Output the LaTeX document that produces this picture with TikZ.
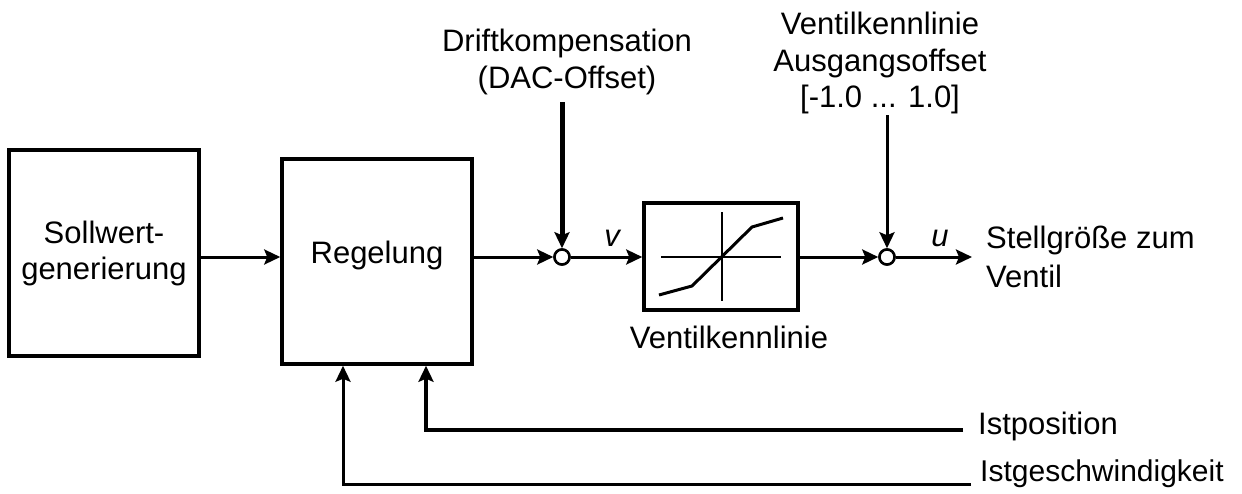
\documentclass[tikz,border=0pt]{standalone}
\usepackage{fontspec}
\setmainfont{Liberation Sans}
\usetikzlibrary{arrows.meta}
\begin{document}
\begin{tikzpicture}[x=1pt,y=-1pt,
  every node/.style={font=\fontsize{31}{37}\selectfont},
  blockbox/.style={draw,line width=3.5pt,inner sep=0pt,align=center},
  sumnode/.style={draw,circle,line width=2.5pt,fill=white,minimum size=15pt,inner sep=0pt},
  sig/.style={line width=3pt,-{Stealth[length=16pt,width=15pt,inset=3pt]}},
  thin axis/.style={line width=1.2pt},
  lbl/.style={inner sep=0pt}]
\useasboundingbox (0,0) rectangle (1242,493);
% blocks
\node[blockbox,minimum width=190pt,minimum height=206pt] (soll) at (104,253) {Sollwert-\\[-1pt]generierung};
\node[blockbox,minimum width=190pt,minimum height=205pt] (reg) at (377,261.5) {};
\node[lbl] (regtxt) at (377,255) {Regelung};
\node[sumnode] (sum1) at (562,257) {};
\node[blockbox,minimum width=154pt,minimum height=107pt] (vk) at (721,256.5) {};
\node[sumnode] (sum2) at (887,257) {};
% characteristic inside vk
\draw[thin axis] (661,257) -- (781,257);
\draw[thin axis] (722,212) -- (722,301);
\draw[line width=3pt] (659,295) -- (692,286) -- (752,227) -- (783,218);
% labels
\node[lbl,align=center] (drift) at (567,62) {Driftkompensation\\(DAC-Offset)};
\node[lbl,align=center,font=\fontsize{31}{36.5}\selectfont] (aoff) at (880,63) {Ventilkennlinie\\Ausgangsoffset\\{}[-1.0 ... 1.0]};
\node[lbl] (vklbl) at (729,337) {Ventilkennlinie};
\node[lbl,font=\fontsize{31}{37}\itshape] (vlbl) at (612,238) {v};
\node[lbl,font=\fontsize{31}{37}\itshape] (ulbl) at (940,238) {u};
\node[lbl,anchor=west,align=left,font=\fontsize{31}{39}\selectfont] (out) at (986,257) {Stellgröße zum\\Ventil};
\node[lbl,anchor=west] (ipos) at (978,426) {Istposition};
\node[lbl,anchor=west,font=\fontsize{30}{37}\selectfont] (igeschw) at (980,474) {Istgeschwindigkeit};
% coordinates
\coordinate (dtop) at (562,102);
\coordinate (atop) at (887,115);
\coordinate (uend) at (972,257);
\coordinate (iposend) at (963,430);
\coordinate (igend) at (971,484);
\coordinate (fbA) at (426,0);
\coordinate (fbB) at (343,0);
% connectors
\draw[sig] (soll.east |- sum1) -- (reg.west |- sum1);
\draw[sig] (reg.east |- sum1) -- (sum1.west);
\draw[sig] (sum1.east) -- (vk.west |- sum1);
\draw[sig] (vk.east |- sum2) -- (sum2.west);
\draw[sig] (sum2.east) -- (uend);
\draw[sig,line width=5pt] (dtop) -- (sum1.north);
\draw[sig] (atop) -- (sum2.north);
\draw[sig,line width=4pt] (iposend) -| (reg.south -| fbA);
\draw[sig] (igend) -| (reg.south -| fbB);
\node[sumnode] at (sum1) {};
\node[sumnode] at (sum2) {};
\end{tikzpicture}
\end{document}
